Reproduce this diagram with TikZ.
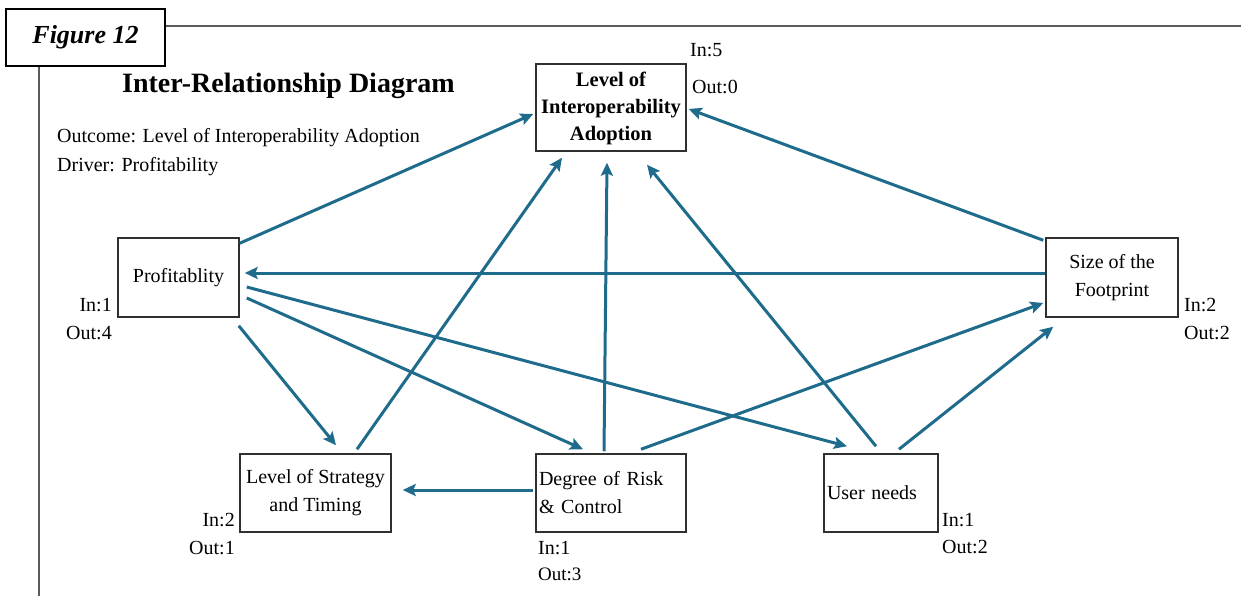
\documentclass[tikz,border=0pt]{standalone}
\usepackage{fontspec}
\setmainfont{Liberation Serif}
\usetikzlibrary{calc,arrows.meta}
\definecolor{linkblue}{HTML}{1F6B8C}
\definecolor{boxgray}{HTML}{303030}
\definecolor{framegray}{HTML}{5A5A5A}
\tikzset{
  box/.style={draw=boxgray, line width=1.5pt, inner sep=0pt, font=\fontsize{20}{28}\selectfont},
  count/.style={inner sep=0pt, font=\fontsize{20}{24}\selectfont},
  link/.style={draw=linkblue, line width=3pt, -{Stealth[length=13pt,width=12pt,inset=2.5pt]}},
  frameline/.style={draw=framegray, line width=1.5pt},
}
\begin{document}
\begin{tikzpicture}[x=1pt,y=-1pt]
\useasboundingbox (0,0) rectangle (1241,596);

% page frame with the figure tag
\node[draw=black, line width=2pt, minimum width=159pt, minimum height=57pt, inner sep=0pt,
      font=\fontsize{26}{30}\selectfont\bfseries\itshape] (figlabel) at (85.5,37.5) {Figure 12};
\coordinate (frameR) at (1241,26);
\coordinate (frameB) at (39,596);
\draw[frameline] (figlabel.east |- frameR) -- (frameR);
\draw[frameline] (figlabel.south -| frameB) -- (frameB);

% heading and legend
\node[inner sep=0pt, anchor=west, font=\fontsize{28}{32}\selectfont\bfseries] (title) at (122,86) {Inter-Relationship Diagram};
\node[count, anchor=west] (outcome) at (57,138) {Outcome: Level of Interoperability Adoption};
\node[count, anchor=west] (driver) at (57,167) {Driver: Profitability};

% factors
\node[box, minimum width=150pt, minimum height=87pt, align=center, inner ysep=0pt, text depth=3pt,
      font=\fontsize{20.5}{27}\selectfont\bfseries]
  (lia) at (611,107.5) {Level of\\Interoperability\\Adoption};
\node[box, minimum width=121pt, minimum height=79pt, align=center] (prof) at (178.5,277.5) {Profitablity};
\node[box, minimum width=151pt, minimum height=78pt, align=center] (strat) at (315.5,493) {Level of Strategy\\and Timing};
\node[box, minimum width=150pt, minimum height=78pt, text width=144pt, inner xsep=3pt, align=left] (risk) at (611,493) {Degree of Risk\\\& Control};
\node[box, minimum width=112pt, minimum height=78pt, text width=108pt, inner xsep=3pt, align=left] (user) at (881,493) {User needs};
\node[box, minimum width=132pt, minimum height=79pt, align=center] (size) at (1112,277.5) {Size of the\\Footprint};

% in/out counts
\node[count, anchor=west] (liaIn) at (690,50) {In:5};
\node[count, anchor=west] (liaOut) at (692,87) {Out:0};
\node[count, anchor=east] (profIn) at (112,305) {In:1};
\node[count, anchor=east] (profOut) at (112,333) {Out:4};
\node[count, anchor=east] (stratIn) at (235,520) {In:2};
\node[count, anchor=east] (stratOut) at (235,548) {Out:1};
\node[count, anchor=west] (riskIn) at (538,548) {In:1};
\node[count, anchor=west, font=\fontsize{19}{22}\selectfont] (riskOut) at (538,574) {Out:3};
\node[count, anchor=west] (userIn) at (942,520) {In:1};
\node[count, anchor=west] (userOut) at (942,547) {Out:2};
\node[count, anchor=west] (sizeIn) at (1184,305) {In:2};
\node[count, anchor=west] (sizeOut) at (1184,333) {Out:2};

% relationships
\draw[link] ($(prof.north east)+(0,6)$) -- ($(lia.west)+(-2,6.5)$);
\draw[link] ($(size.north west)+(-2,3)$) -- ($(lia.east)+(2,1.5)$);
\draw[link] ($(size.west)+(0,-4.5)$) -- ($(prof.east)+(5,-4.5)$);
\draw[link] ($(prof.south east)+(-1,8)$) -- ($(strat.north)+(20.5,-8)$);
\draw[link] ($(prof.east)+(7,20.5)$) -- ($(risk.north)+(-28,-4)$);
\draw[link] ($(prof.east)+(7,9.5)$) -- ($(user.north)+(-34,-7)$);
\draw[link] ($(strat.north)+(41.5,-4)$) -- ($(lia.south)+(-49,6)$);
\draw[link] ($(risk.north)+(-7,-2)$) -- ($(lia.south)+(-4,11)$);
\draw[link] ($(user.north)+(-5,-7)$) -- ($(lia.south)+(36,13)$);
\draw[link] ($(risk.north)+(30,-4)$) -- ($(size.west)+(-2,25.5)$);
\draw[link] ($(user.north)+(18,-4)$) -- ($(size.south west)+(8,9)$);
\draw[link] ($(risk.west)+(-2,-3)$) -- ($(strat.east)+(11,-3)$);
\end{tikzpicture}
\end{document}
